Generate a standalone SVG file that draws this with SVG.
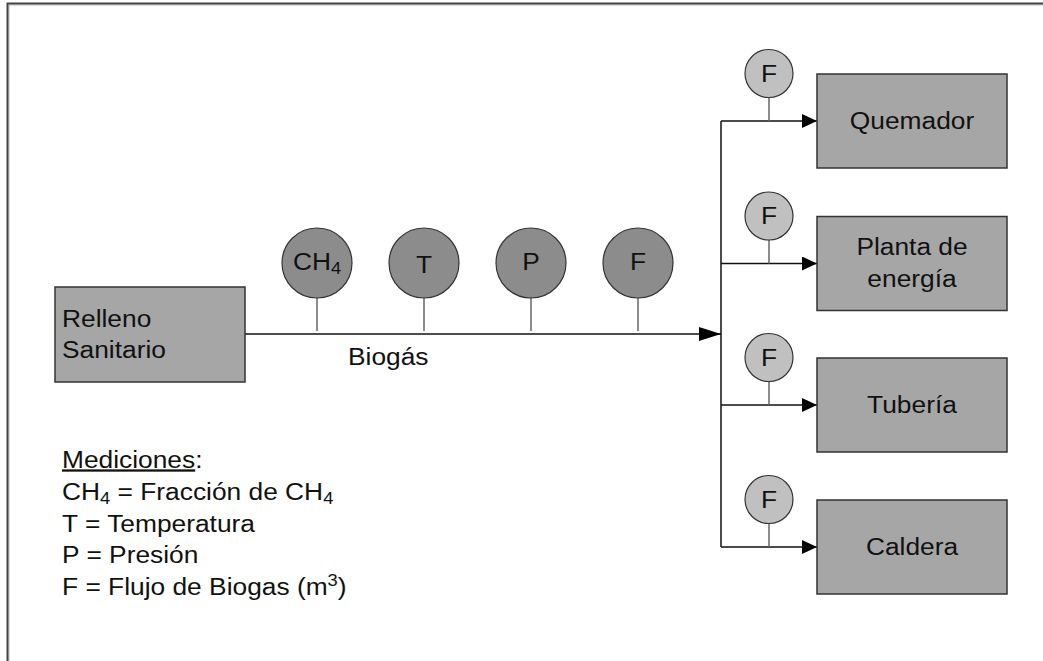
<svg xmlns="http://www.w3.org/2000/svg" width="1043" height="661" viewBox="0 0 1043 661">
<defs>
<style>
text{font-family:"Liberation Sans",Arial,sans-serif;fill:#111;font-size:23px}
.box{fill:#a6a6a6;stroke:#333;stroke-width:1.5}
.big{fill:#8c8c8c;stroke:#333;stroke-width:1.2}
.small{fill:#c0c0c0;stroke:#333;stroke-width:1.2}
.stem{stroke:#666;stroke-width:1.5;fill:none}
.flow{stroke:#111;stroke-width:1.5;fill:none}
.c{text-anchor:middle}
.sub{font-size:16px}
</style>
<marker id="ahBig" markerWidth="22" markerHeight="14" refX="22" refY="7" orient="auto" markerUnits="userSpaceOnUse">
<path d="M0,0 L22,7 L0,14 Z" fill="#000"/>
</marker>
<marker id="ah" markerWidth="15" markerHeight="14" refX="15" refY="7" orient="auto" markerUnits="userSpaceOnUse">
<path d="M0,0 L15,7 L0,14 Z" fill="#000"/>
</marker>
</defs>
<rect width="1043" height="661" fill="#fff"/>
<g id="frame">
<path d="M9,661 V5 H1043" fill="none" stroke="#bbb" stroke-width="1"/>
<path d="M7.5,661 V3.5 H1043" fill="none" stroke="#444" stroke-width="2"/>
</g>
<g id="connectors">
<line class="flow" x1="245" y1="334" x2="721" y2="334" marker-end="url(#ahBig)"/>
<line class="flow" x1="721" y1="121" x2="721" y2="547"/>
<line class="flow" x1="721" y1="121" x2="817" y2="121" marker-end="url(#ah)"/>
<line class="flow" x1="721" y1="263.5" x2="817" y2="263.5" marker-end="url(#ah)"/>
<line class="flow" x1="721" y1="405" x2="817" y2="405" marker-end="url(#ah)"/>
<line class="flow" x1="721" y1="547" x2="817" y2="547" marker-end="url(#ah)"/>
<line class="stem" x1="317" y1="298" x2="317" y2="331"/>
<line class="stem" x1="424" y1="298" x2="424" y2="331"/>
<line class="stem" x1="531" y1="298" x2="531" y2="331"/>
<line class="stem" x1="638" y1="298" x2="638" y2="331"/>
<line class="stem" x1="769" y1="97" x2="769" y2="121"/>
<line class="stem" x1="769" y1="240" x2="769" y2="263.5"/>
<line class="stem" x1="769" y1="381" x2="769" y2="405"/>
<line class="stem" x1="769" y1="523" x2="769" y2="547"/>
</g>
<g id="relleno">
<rect class="box" x="55" y="287" width="190" height="95"/>
<text transform="translate(62,327) scale(1.145,1)">Relleno</text>
<text transform="translate(62,358) scale(1.145,1)">Sanitario</text>
</g>
<text id="biogas-label" transform="translate(348,365) scale(1.145,1)">Biogás</text>
<g id="sensor-ch4">
<circle class="big" cx="317" cy="263" r="35"/>
<text transform="translate(293,270) scale(1.145,1)">CH<tspan class="sub" dy="4">4</tspan></text>
</g>
<g id="sensor-t">
<circle class="big" cx="424" cy="263" r="35"/>
<text class="c" transform="translate(424,273) scale(1.145,1)" font-size="31">T</text>
</g>
<g id="sensor-p">
<circle class="big" cx="531" cy="263" r="35"/>
<text class="c" transform="translate(531,270) scale(1.145,1)">P</text>
</g>
<g id="sensor-f">
<circle class="big" cx="638" cy="263" r="35"/>
<text class="c" transform="translate(638,270) scale(1.145,1)" font-size="24">F</text>
</g>
<g id="f-quemador">
<circle class="small" cx="769" cy="73.5" r="24"/>
<text class="c" transform="translate(769,81.5) scale(1.145,1)">F</text>
</g>
<g id="f-planta">
<circle class="small" cx="769" cy="216" r="24"/>
<text class="c" transform="translate(769,224) scale(1.145,1)">F</text>
</g>
<g id="f-tuberia">
<circle class="small" cx="769" cy="357.5" r="24"/>
<text class="c" transform="translate(769,365.5) scale(1.145,1)">F</text>
</g>
<g id="f-caldera">
<circle class="small" cx="769" cy="499.5" r="24"/>
<text class="c" transform="translate(769,507.5) scale(1.145,1)">F</text>
</g>
<g id="quemador">
<rect class="box" x="817" y="74" width="190" height="94"/>
<text class="c" transform="translate(912,129) scale(1.145,1)">Quemador</text>
</g>
<g id="planta">
<rect class="box" x="817" y="216.5" width="190" height="94"/>
<text class="c" transform="translate(912,255) scale(1.145,1)">Planta de</text>
<text class="c" transform="translate(912,286.5) scale(1.145,1)">energía</text>
</g>
<g id="tuberia">
<rect class="box" x="817" y="358" width="190" height="94"/>
<text class="c" transform="translate(912,413) scale(1.145,1)">Tubería</text>
</g>
<g id="caldera">
<rect class="box" x="817" y="500" width="190" height="94"/>
<text class="c" transform="translate(912,555) scale(1.145,1)">Caldera</text>
</g>
<g id="legend">
<text transform="translate(62,467.5) scale(1.145,1)"><tspan text-decoration="underline">Mediciones</tspan>:</text>
<text transform="translate(62,500) scale(1.145,1)">CH<tspan class="sub" dy="4">4</tspan><tspan dy="-4"> = Fracción de CH</tspan><tspan class="sub" dy="4">4</tspan></text>
<text transform="translate(62,531.5) scale(1.145,1)">T = Temperatura</text>
<text transform="translate(62,563) scale(1.145,1)">P = Presión</text>
<text transform="translate(62,594.5) scale(1.145,1)">F = Flujo de Biogas (m<tspan class="sub" dy="-9">3</tspan><tspan dy="9">)</tspan></text>
</g>
</svg>
